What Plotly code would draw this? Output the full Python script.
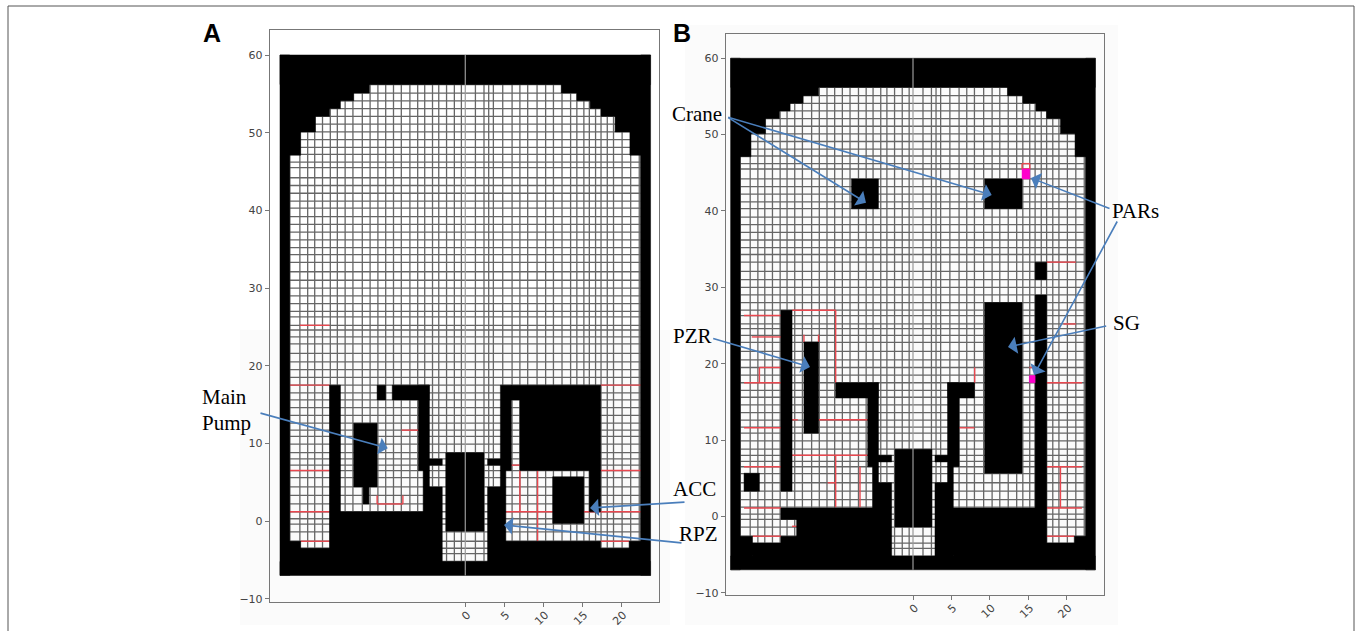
import plotly.graph_objects as go

W, H = 1356, 631

# --- Mesh lines (both panels share the mesh) ---
x_edges = [-22.5, -21.2, -20.2, -19.3, -18.3, -17.3, -16.4, -15.4, -14.4, -13.2, -12.2, -11.2,
           -10.2, -9.2, -8.2, -7.1, -6.1, -5.2, -4.2, -3.4, -2.4, -1.4, -0.5, 1.3, 2.4, 3.0,
           3.6, 4.8, 6.0, 7.0, 8.0, 9.2, 10.3, 11.3, 12.4, 13.5, 14.3, 15.2, 15.9, 16.7,
           17.4, 18.2, 19.0, 20.1, 21.2, 22.3, 22.5]
y_edges = [-5.2, -4.2, -3.5, -2.6, -1.4, -0.4, 0.3, 1.2, 2.2, 3.3, 4.4, 5.6, 6.5, 7.2, 8.0, 8.8,
           9.9, 10.9, 11.7, 12.6, 13.6, 14.6, 15.6, 16.5, 17.5, 18.5, 19.5, 20.5, 21.6, 22.8,
           23.7, 24.6, 25.2, 26.3, 27.0, 28.0, 29.0, 30.0, 31.0, 32.1, 33.3, 34.3, 35.2, 36.2,
           37.2, 38.2, 39.2, 40.3, 41.2, 42.2, 43.2, 44.2, 45.5, 46.2, 47.2, 48.1, 49.1, 50.1,
           51.1, 52.1, 53.1, 54.1, 55.1, 56.2]

# --- Dome outline ---
dome_half_width = [22.5, 21.1, 19.2, 17.4, 16.0, 14.3, 12.3]
dome_top = [47.1, 50.1, 52.1, 53.1, 54.1, 55.1, 56.2]

# --- Domain outer extents ---
outer_x = 23.75
outer_y_low = -7
outer_y_high = 60
mesh_y_low = -5.2

# --- Solid (black) cells as (x0, x1, y0, y1) ---
a_black = [
    (-22.5, -21.1, -5.2, -2.6), (-21.1, -17.4, -5.2, -3.5), (-17.4, -16, -5.2, 17.5),
    (-16, -2.95, -5.2, 1.2), (-5.4, -2.95, 1.2, 4.4), (-5.4, -4.6, 4.4, 6.5),
    (-6, -4.6, 6.5, 17.5), (-9.36, -4.6, 15.6, 17.5), (-11.3, -10.2, 15.6, 17.5),
    (-14.3, -11.3, 4.4, 12.6), (-13.1, -12.35, 2.2, 4.4), (-4.6, -2.95, 7.2, 8),
    (2.86, 4.5, 7.2, 8), (-2.5, 2.4, -1.3, 8.8), (2.86, 5.2, -5.2, 4.4),
    (4.5, 5.2, 4.4, 6.5), (4.5, 5.9, 6.5, 17.5), (5.9, 17.35, 15.6, 17.5),
    (7, 17.35, 6.5, 15.6), (15.9, 17.35, 1.2, 6.5), (11.2, 15.2, -0.3, 5.7),
    (5.2, 17.35, -5.2, -2.6), (17.35, 21, -5.2, -3.5), (21, 22.5, -5.2, -2.6),
]
b_black = [
    (-22.5, -20.9, -5.2, -2.6), (-20.9, -17.2, -5.2, -3.5), (-17.2, -15.15, -5.2, -2.6),
    (-17.2, -15.15, -0.4, 1.1), (-15.15, -2.78, -5.2, 1.1), (-17.2, -15.75, 3.3, 27),
    (-22, -20, 3.3, 5.65), (-14.2, -12.3, 10.9, 22.85), (-10.07, -4.5, 15.5, 17.5),
    (-5.9, -4.5, 6.5, 17.5), (-5.25, -4.5, 1.1, 6.5), (-4.5, -2.78, 1.1, 4.4),
    (-4.5, -2.78, 7.13, 8), (2.86, 4.5, 7.13, 8), (-2.34, 2.47, -1.4, 8.8),
    (2.86, 5.25, -5.2, 4.4), (4.5, 6, 6.5, 17.5), (4.5, 8, 15.5, 17.5),
    (4.5, 5.25, 4.4, 6.5), (5.25, 17.4, -5.2, 1.1), (9.33, 14.2, 5.65, 28),
    (15.9, 17.4, 1.1, 29), (15.9, 17.4, 31, 33.3), (-8, -4.5, 40.3, 44.2),
    (9.33, 14.2, 40.3, 44.2), (17.4, 21, -5.2, -3.5), (21, 22.5, -5.2, -2.6),
]

# --- Red segments as (x0, y0, x1, y1) ---
a_red = [
    (-22.5, 17.5, -17.4, 17.5), (17.35, 17.5, 22.5, 17.5), (-21.2, 25.2, -17.4, 25.2),
    (-22.5, 6.5, -17.4, 6.5), (17.35, 6.5, 22.5, 6.5), (-22.5, 1.2, -17.4, 1.2),
    (5.2, 1.2, 22.5, 1.2), (-21.1, -2.6, -17.4, -2.6), (17.35, -2.6, 21, -2.6),
    (-8.16, 11.7, -6, 11.7), (-11.3, 2.2, -8, 2.2), (-11.3, 2.2, -11.3, 3.3),
    (-8, 2.2, -8, 3.3), (7, 6.5, 7, 1.2), (9.27, 6.5, 9.27, -2.6), (5.9, 7.2, 7, 7.2),
]
b_red = [
    (-22, 26.3, -17.2, 26.3), (-21, 23.5, -17.2, 23.5), (-20, 19.5, -17.2, 19.5),
    (-20, 19.5, -20, 17.5), (-22, 17.5, -17.2, 17.5), (-22, 11.6, -17.2, 11.6),
    (-22, 6.5, -17.2, 6.5), (-22, 1.1, -17.2, 1.1), (-20.9, -2.6, -17.2, -2.6),
    (-15.75, 27, -10.07, 27), (-10.07, 27, -10.07, 17.5), (-14.2, 23.8, -14.2, 22.85),
    (-12.3, 23.8, -12.3, 22.85), (-15.75, 12.65, -15, 12.65), (-12.3, 12.65, -5.9, 12.65),
    (-15.75, 8, -5.9, 8), (-10.07, 8, -10.07, 1.2), (-6.9, 6.5, -6.9, 1.2),
    (-11.1, 4.4, -10.07, 4.4), (-15.75, -1.3, -15.15, -1.3), (8.03, 19.5, 8.03, 17.5),
    (6, 11.6, 8, 11.6), (19.6, 25.2, 21.2, 25.2), (17.4, 33.3, 21.2, 33.3),
    (17.4, 17.5, 22, 17.5), (17.4, 6.5, 22, 6.5), (19.2, 6.5, 19.2, 1.1),
    (17.4, 1.1, 22, 1.1), (17.4, -2.6, 21, -2.6), (15.15, 19.5, 15.9, 19.5),
    (14.2, 46.2, 15.2, 46.2), (14.2, 46.2, 14.2, 45.5), (15.2, 46.2, 15.2, 45.5),
    (14.2, 45.5, 15.2, 45.5),
]

# --- Magenta cells (PARs, panel B) ---
b_magenta = [(14.2, 15.2, 44.2, 45.5), (15.15, 15.9, 17.5, 18.45)]

y_ticks = [-10, 0, 10, 20, 30, 40, 50, 60]
x_ticks = [0, 5, 10, 15, 20]

GRID = "#666666"
RED = "#e9474f"
BLACK = "#000000"
FRAME = "#777777"
TICK = "#444444"
ARROW = "#4a7ebb"


def rect_path(rects):
    xs, ys = [], []
    for x0, x1, y0, y1 in rects:
        xs += [x0, x1, x1, x0, x0, None]
        ys += [y0, y0, y1, y1, y0, None]
    return xs, ys


def seg_path(segs):
    xs, ys = [], []
    for x0, y0, x1, y1 in segs:
        xs += [x0, x1, None]
        ys += [y0, y1, None]
    return xs, ys


def common_black():
    rects = [
        (-outer_x, -dome_half_width[0], outer_y_low, outer_y_high),
        (dome_half_width[0], outer_x, outer_y_low, outer_y_high),
        (-outer_x, outer_x, outer_y_low, mesh_y_low),
        (-outer_x, outer_x, dome_top[-1], outer_y_high),
    ]
    for i in range(len(dome_top) - 1):
        hw = dome_half_width[i + 1]
        rects.append((-dome_half_width[0], -hw, dome_top[i], dome_top[i + 1]))
        rects.append((hw, dome_half_width[0], dome_top[i], dome_top[i + 1]))
    return rects


fig = go.Figure()


def add_panel(xa, ya, black, red, magenta):
    grid_segs = [(x, mesh_y_low, x, dome_top[-1]) for x in x_edges]
    grid_segs += [(-dome_half_width[0], y, dome_half_width[0], y) for y in y_edges]
    gx, gy = seg_path(grid_segs)
    fig.add_trace(go.Scatter(x=gx, y=gy, mode="lines", line=dict(color=GRID, width=1.3),
                             xaxis=xa, yaxis=ya, hoverinfo="skip", showlegend=False))
    rx, ry = seg_path(red)
    fig.add_trace(go.Scatter(x=rx, y=ry, mode="lines", line=dict(color=RED, width=1.4),
                             xaxis=xa, yaxis=ya, hoverinfo="skip", showlegend=False))
    bx, by = rect_path(common_black() + black)
    fig.add_trace(go.Scatter(x=bx, y=by, mode="lines", fill="toself", fillcolor=BLACK,
                             line=dict(color=BLACK, width=0.5),
                             xaxis=xa, yaxis=ya, hoverinfo="skip", showlegend=False))
    if magenta:
        mx, my = rect_path(magenta)
        fig.add_trace(go.Scatter(x=mx, y=my, mode="lines", fill="toself", fillcolor="#ff00cc",
                                 line=dict(color="#ff00cc", width=0.5),
                                 xaxis=xa, yaxis=ya, hoverinfo="skip", showlegend=False))
    fig.add_trace(go.Scatter(x=[0, 0], y=[outer_y_low, outer_y_high], mode="lines",
                             line=dict(color="#9a9a9a", width=1.2),
                             xaxis=xa, yaxis=ya, hoverinfo="skip", showlegend=False))


add_panel("x", "y", a_black, a_red, None)
add_panel("x2", "y2", b_black, b_red, b_magenta)


def px(v):
    return v / W


def py(v):
    return 1 - v / H


def axis_common():
    return dict(showgrid=False, zeroline=False, showline=True, mirror=True, automargin=False,
                linecolor=FRAME, linewidth=1.4, ticks="outside", ticklen=4, tickwidth=1,
                tickcolor=FRAME, tickfont=dict(family="DejaVu Sans", size=11, color=TICK),
                tickmode="array", layer="above traces")


fig.update_layout(
    width=W, height=H, autosize=False, margin=dict(l=0, r=0, t=0, b=0),
    paper_bgcolor="white", plot_bgcolor="white", showlegend=False,
    font=dict(family="Liberation Serif", color="black"),
    xaxis=dict(domain=[px(270), px(659)], range=[-25.03, 24.83], tickvals=x_ticks,
               tickangle=-45, anchor="y", ticklabelstandoff=-3, ticklabelshift=2, **axis_common()),
    yaxis=dict(domain=[py(602), py(30)], range=[-10.42, 63.22], tickvals=y_ticks,
               anchor="x", **axis_common()),
    xaxis2=dict(domain=[px(726), px(1104)], range=[-24.35, 24.87], tickvals=x_ticks,
                tickangle=-45, anchor="y2", ticklabelstandoff=-3, ticklabelshift=2, **axis_common()),
    yaxis2=dict(domain=[py(595), py(34)], range=[-10.3, 63.18], tickvals=y_ticks,
                anchor="x2", **axis_common()),
)

# Outer page frame and faint scan backgrounds
fig.add_shape(type="rect", xref="paper", yref="paper", x0=px(685), x1=px(1118), y0=py(625), y1=py(25),
              fillcolor="#fbfbfb", line=dict(width=0), layer="below")
fig.add_shape(type="rect", xref="paper", yref="paper", x0=px(240), x1=px(670), y0=py(625), y1=py(330),
              fillcolor="#fbfbfb", line=dict(width=0), layer="below")
fig.add_shape(type="path", xref="paper", yref="paper",
              path=f"M {px(8)} {py(631)} L {px(8)} {py(6)} L {px(1354)} {py(6)} L {px(1354)} {py(631)}",
              line=dict(color="#555555", width=1))

# Callout arrows: (tail x, tail y, head x, head y) in page pixels
callouts = [
    (259, 412.7, 387.7, 448.3), (686, 502, 590, 508), (683, 543, 504, 525),
    (726.7, 116.7, 866, 202.7), (726.7, 116.7, 991.7, 195), (1111, 209, 1031, 178),
    (1118, 220, 1034, 375), (1107.7, 325.7, 1008, 347), (711.7, 338, 810, 367),
]
for tx, ty, hx, hy in callouts:
    fig.add_annotation(xref="paper", yref="paper", axref="pixel", ayref="pixel",
                       x=px(hx), y=py(hy), ax=tx - hx, ay=ty - hy, text="", showarrow=True,
                       arrowhead=1, arrowsize=1.8, arrowwidth=1.6, arrowcolor=ARROW)

# Labels: (text, centre x, centre y)
labels = [("Main", 224, 397), ("Pump", 226, 423), ("Crane", 697, 114), ("PARs", 1135, 211),
          ("SG", 1126, 323), ("PZR", 692, 336), ("ACC", 694, 489), ("RPZ", 698, 534)]
for text, cx, cy in labels:
    fig.add_annotation(xref="paper", yref="paper", x=px(cx), y=py(cy), text=text, showarrow=False,
                       xanchor="center", yanchor="middle",
                       font=dict(family="Liberation Serif", size=21, color="black"))

panel_letters = [("A", 212, 33), ("B", 682, 33)]
for text, cx, cy in panel_letters:
    fig.add_annotation(xref="paper", yref="paper", x=px(cx), y=py(cy), text=f"<b>{text}</b>",
                       showarrow=False, xanchor="center", yanchor="middle",
                       font=dict(family="Liberation Sans", size=25, color="black"))

fig.write_html("out.html", config=dict(displayModeBar=False),
               post_script="document.body.style.margin='0';")
